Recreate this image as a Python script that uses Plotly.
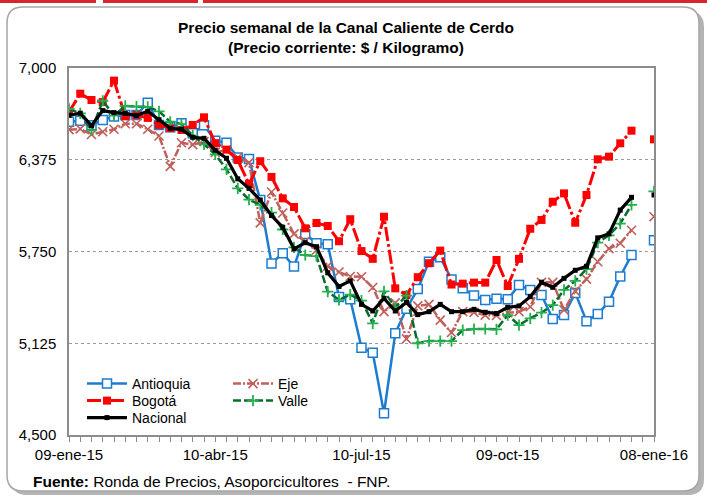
import pandas as pd
import plotly.graph_objects as go

# ---------------- data ----------------
weeks = pd.date_range("2015-01-09", periods=53, freq="7D").strftime("%Y-%m-%d").tolist()
tick_dates = ["2015-01-09", "2015-04-10", "2015-07-10", "2015-10-09", "2016-01-08"]
tick_labels = ["09-ene-15", "10-abr-15", "10-jul-15", "09-oct-15", "08-ene-16"]
y_ticks = [4500, 5125, 5750, 6375, 7000]

antioquia = [6634, 6640, 6610, 6646, 6670, 6680, 6680, 6764, 6612, 6596, 6623, 6555, 6610,
             6505, 6490, 6390, 6380, 6100, 5669, 5738, 5647, 5870, 5806, 5800, 5440, 5425,
             5095, 5060, 4648, 5193, 5360, 5494, 5681, 5710, 5560, 5500, 5450, 5420, 5428,
             5424, 5522, 5488, 5454, 5290, 5317, 5468, 5275, 5324, 5408, 5580, 5726, None, 5826]
bogota = [6700, 6825, 6782, 6768, 6914, 6672, 6680, 6660, 6612, 6590, 6578, 6612, 6664,
          6488, 6444, 6373, 6210, 6365, 6258, 6112, 6053, 5908, 5944, 5924, 5820, 5970,
          5753, 5700, 5987, 5499, 5454, 5575, 5670, 5756, 5525, 5531, 5538, 5538, 5692,
          5515, 5700, 5905, 5965, 6089, 6146, 5946, 6135, 6378, 6396, 6487, 6573, None, 6514]
eje = [6580, 6585, 6547, 6566, 6583, 6620, 6620, 6583, 6537, 6330, 6491, 6478, 6498,
       6425, 6441, 6390, 6355, 5945, 6155, 6012, 5870, 5820, 5760, 5650, 5610, 5580,
       5578, 5505, 5340, 5400, 5155, 5380, 5390, 5283, 5198, 5340, 5335, 5317, 5314,
       5333, 5340, 5374, 5540, 5540, 5352, 5480, 5562, 5680, 5770, 5806, 5895, None, 5987]
valle = [6722, 6691, 6575, 6777, 6676, 6742, 6737, 6735, 6705, 6634, 6618, 6540, 6480,
         6412, 6310, 6180, 6103, 6067, 6015, 5900, 5778, 5726, 5719, 5476, 5420, 5456,
         5415, 5261, 5478, 5370, 5450, 5125, 5140, 5140, 5140, 5215, 5222, 5222, 5220,
         5317, 5249, 5295, 5333, 5385, 5488, 5550, 5630, 5810, 5860, 5940, 6067, None, 6160]
nacional = [6678, 6692, 6608, 6710, 6696, 6690, 6676, 6705, 6648, 6589, 6582, 6528, 6521,
            6440, 6385, 6245, 6180, 6101, 5995, 5915, 5768, 5810, 5783, 5605, 5512, 5550,
            5390, 5345, 5431, 5345, 5403, 5320, 5340, 5390, 5340, 5340, 5356, 5336, 5328,
            5370, 5379, 5442, 5541, 5506, 5567, 5622, 5649, 5843, 5870, 6032, 6119, None, 6135]

# ---------------- geometry ----------------
W, H = 707, 497
L, R, T, B = 69, 654, 68, 435
PW, PH = R - L, B - T


def px(x):
    return (x - L) / PW


def py(y):
    return (B - y) / PH


FONT = "Liberation Sans, Arial, sans-serif"

fig = go.Figure()

fig.add_trace(go.Scatter(
    x=weeks, y=antioquia, name="Antioquia", mode="lines+markers",
    line=dict(color="#1C7CD0", width=2.5),
    marker=dict(symbol="square", size=9, color="white", line=dict(color="#1C7CD0", width=1.5)),
    legend="legend"))
fig.add_trace(go.Scatter(
    x=weeks, y=eje, name="Eje", mode="lines+markers",
    line=dict(color="#C0605C", width=2.5, dash="8px,2px,2px,2px"),
    marker=dict(symbol="x-thin", size=9, color="#C0605C", line=dict(color="#C0605C", width=1.6)),
    legend="legend2"))
fig.add_trace(go.Scatter(
    x=weeks, y=bogota, name="Bogotá", mode="lines+markers",
    line=dict(color="#FF0000", width=3, dash="14px,3px,3px,3px"),
    marker=dict(symbol="square", size=8, color="#FF0000"),
    legend="legend3"))
fig.add_trace(go.Scatter(
    x=weeks, y=valle, name="Valle", mode="lines+markers",
    line=dict(color="#0B6B2E", width=2.5, dash="8px,3px"),
    marker=dict(symbol="cross-thin", size=8, color="#22B14C", line=dict(color="#22B14C", width=1.8)),
    legend="legend4"))
fig.add_trace(go.Scatter(
    x=weeks, y=nacional, name="Nacional", mode="lines+markers",
    line=dict(color="#000000", width=3.2),
    marker=dict(symbol="square", size=5, color="#000000"),
    legend="legend5"))

# ---------------- decorations ----------------
shapes = []
for x0, x1 in [(0, 96), (103, 198), (203, 707)]:
    shapes.append(dict(type="rect", xref="paper", yref="paper", layer="below",
                       x0=px(x0), x1=px(x1), y0=py(3), y1=py(0),
                       fillcolor="#D9262C", line=dict(width=0)))


def rounded(x0, y0, x1, y1, r):
    rx, ry = r / PW, r / PH
    X0, X1, Y0, Y1 = px(x0), px(x1), py(y1), py(y0)
    return (f"M {X0+rx},{Y1} L {X1-rx},{Y1} Q {X1},{Y1} {X1},{Y1-ry} "
            f"L {X1},{Y0+ry} Q {X1},{Y0} {X1-rx},{Y0} L {X0+rx},{Y0} "
            f"Q {X0},{Y0} {X0},{Y0+ry} L {X0},{Y1-ry} Q {X0},{Y1} {X0+rx},{Y1} Z")


shapes.append(dict(type="path", xref="paper", yref="paper", layer="below",
                   path=rounded(11, 11, 704, 495, 16), fillcolor="#B4B4B4", line=dict(width=0)))
shapes.append(dict(type="path", xref="paper", yref="paper", layer="below",
                   path=rounded(7, 7, 699, 491, 16), fillcolor="white",
                   line=dict(color="#A6A6A6", width=1.5)))


def leg(xp, yp):
    return dict(x=px(xp), y=py(yp), xanchor="left", yanchor="middle",
                bgcolor="rgba(0,0,0,0)", font=dict(family=FONT, size=14),
                tracegroupgap=0, itemwidth=40)


fig.update_layout(
    width=W, height=H,
    margin=dict(l=L, r=W - R, t=T, b=H - B),
    paper_bgcolor="white", plot_bgcolor="white",
    font=dict(family=FONT, size=14, color="#000000"),
    title=dict(text="<b>Precio semanal de la Canal Caliente de Cerdo<br>(Precio corriente: $ / Kilogramo)</b>",
               x=346 / W, xref="container", xanchor="center",
               y=1 - 33 / H, yref="container", yanchor="middle",
               font=dict(family=FONT, size=15.5, color="#000000")),
    showlegend=True,
    legend=leg(82, 384),
    legend2=leg(228, 384),
    legend3=leg(82, 401),
    legend4=leg(228, 401),
    legend5=leg(82, 418),
    shapes=shapes,
    annotations=[dict(text="<b>Fuente:</b> Ronda de Precios, Asoporcicultores  - FNP.",
                      xref="paper", yref="paper", x=px(31), y=py(481),
                      xanchor="left", yanchor="middle", showarrow=False,
                      font=dict(family=FONT, size=15.5, color="#000000"))],
)

fig.update_xaxes(
    type="date", range=[weeks[0], weeks[-1]],
    tickmode="array", tickvals=tick_dates, ticktext=tick_labels,
    ticks="outside", ticklen=5, tickcolor="#8C8C8C", tickwidth=1,
    minor=dict(tickmode="linear", tick0=weeks[0], dtick=7 * 86400000,
               ticks="outside", ticklen=5, tickcolor="#8C8C8C", tickwidth=1, showgrid=False),
    showgrid=False, showline=True, linecolor="#8C8C8C", linewidth=1.5, mirror=True,
    tickfont=dict(family=FONT, size=15), zeroline=False,
)
fig.update_yaxes(
    range=[4500, 7000], tickmode="array", tickvals=y_ticks, tickformat=",d",
    ticks="", showgrid=True, gridcolor="#9A9A9A", griddash="dot", gridwidth=1,
    showline=True, linecolor="#8C8C8C", linewidth=1.5, mirror=True,
    tickfont=dict(family=FONT, size=15), zeroline=False, ticklabelstandoff=8,
)

fig.write_html("out.html", config={"displayModeBar": False},
               post_script="document.body.style.margin='0';")
